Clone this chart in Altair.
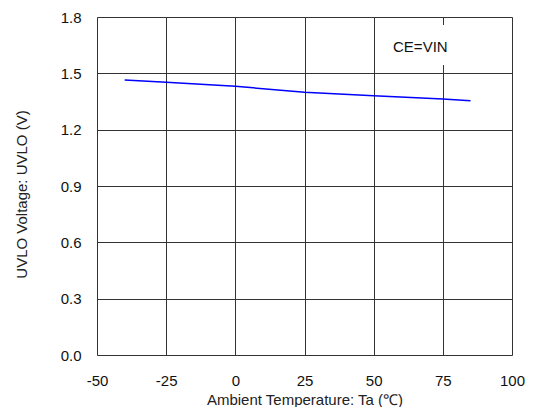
import altair as alt
import pandas as pd

temps = [-40, -25, 0, 25, 50, 75, 85]
uvlo = [1.465, 1.452, 1.431, 1.399, 1.380, 1.363, 1.354]

x_ticks = [-50, -25, 0, 25, 50, 75, 100]
y_ticks = [0.0, 0.3, 0.6, 0.9, 1.2, 1.5, 1.8]

note_text = ["CE=VIN"]
note_x = [57]
note_y = [1.642]

df = pd.DataFrame({"Ta": temps, "UVLO": uvlo})
note = pd.DataFrame({"x": note_x, "y": note_y, "t": note_text})

FONT = "Liberation Sans"

xs = alt.Scale(domain=[-50, 100], nice=False)
ys = alt.Scale(domain=[0, 1.8], nice=False)

line = alt.Chart(df).mark_line(color="#0000ff", strokeWidth=1.5).encode(
    x=alt.X("Ta:Q", scale=xs,
            axis=alt.Axis(values=x_ticks, title="Ambient Temperature: Ta (℃)",
                          labelExpr="'' + datum.value",
                          grid=True, gridColor="#333333", gridWidth=1, gridOpacity=1,
                          ticks=False, domain=False, labelFontSize=15, labelColor="#111111",
                          labelFont=FONT, labelPadding=18, titleFont=FONT, titleFontSize=15,
                          titleFontWeight="normal", titleColor="#222222",
                          titleBaseline="alphabetic", titleY=49,
                          labelFlush=False)),
    y=alt.Y("UVLO:Q", scale=ys,
            axis=alt.Axis(values=y_ticks, format=".1f", title="UVLO Voltage: UVLO (V)",
                          grid=True, gridColor="#333333", gridWidth=1, gridOpacity=1,
                          ticks=False, domain=False, labelFontSize=15, labelColor="#111111",
                          labelFont=FONT, labelPadding=16, titleFont=FONT, titleFontSize=15,
                          titleFontWeight="normal", titleColor="#222222",
                          titleAngle=270, titleBaseline="middle", titleAlign="center",
                          titleX=-76, titleY=177,
                          labelFlush=False)),
)

bg = alt.Chart(note).mark_rect(color="white").encode(
    x=alt.value(293), x2=alt.value(358), y=alt.value(8), y2=alt.value(48)
)

txt = alt.Chart(note).mark_text(align="left", baseline="middle", fontSize=15,
                                font=FONT, color="#111111").encode(
    x=alt.X("x:Q", scale=xs), y=alt.Y("y:Q", scale=ys), text="t:N"
)

chart = alt.layer(bg, line, txt).properties(
    width=415, height=338,
    padding={"left": 89, "top": 9, "right": 14, "bottom": 52},
    autosize=alt.AutoSizeParams(type="none"),
).configure_view(stroke="#333333", strokeWidth=1).configure(background="white")

chart.save("out.html", embed_options={"renderer": "svg", "actions": False})
